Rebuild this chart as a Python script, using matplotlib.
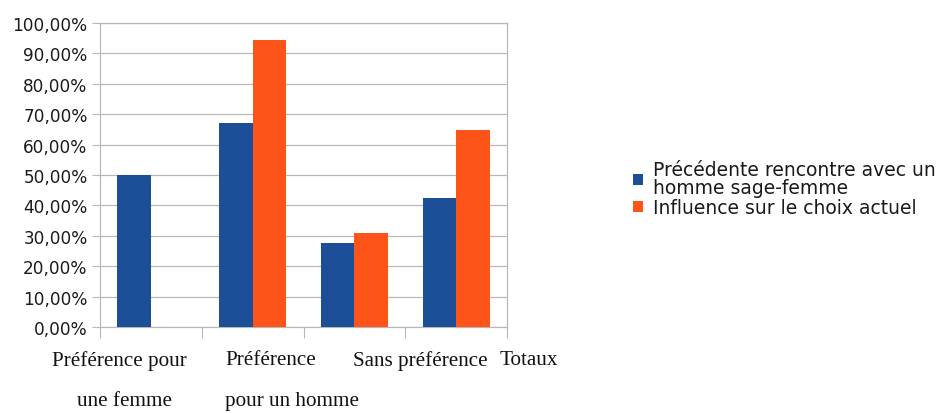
import matplotlib.pyplot as plt
import numpy as np

categories = ["Préférence pour une femme", "Préférence pour un homme", "Sans préférence", "Totaux"]
rencontre = [50.0, 67.0, 27.7, 42.3]
influence = [0.0, 94.5, 30.9, 64.8]
series_names = ["Précédente rencontre avec un\nhomme sage-femme", "Influence sur le choix actuel"]
yticks = np.arange(0, 101, 10)

BLUE = "#1c4f98"
ORANGE = "#ff5419"
GRID = "#b8b8b8"

fig = plt.figure(figsize=(9.5, 4.14), dpi=100)
ax = fig.add_axes([0.1053, 0.2077, 0.4284, 0.7343])

x = np.arange(len(categories))
w = 0.33
ax.bar(x - w / 2, rencontre, w, color=BLUE, label=series_names[0], zorder=3)
ax.bar(x + w / 2, influence, w, color=ORANGE, label=series_names[1], zorder=3)

ax.set_xlim(-0.5, len(categories) - 0.5)
ax.set_ylim(0, 100)
ax.set_yticks(yticks)
ax.set_yticklabels([f"{v},00%" for v in yticks], family="DejaVu Sans", fontsize=12.2, color="#1a1a1a")
ax.yaxis.grid(True, color=GRID, linewidth=0.9, zorder=0)
ax.tick_params(axis="y", length=6, color=GRID, pad=3)

ax.set_xticks(np.arange(len(categories) + 1) - 0.5)
ax.set_xticklabels([])
ax.tick_params(axis="x", length=8, color=GRID)

for s in ax.spines.values():
    s.set_color(GRID)
    s.set_linewidth(0.9)

# category labels written like free text under the chart
lines = [
    ("Préférence pour", 52, 361), ("une femme", 77, 402),
    ("Préférence", 225, 361), ("pour un homme", 225, 402),
    ("Sans préférence", 353, 361), ("Totaux", 500, 361),
]
for txt, px, py in lines:
    fig.text(px / 950, 1 - py / 414, txt, ha="left", va="center",
             family="Liberation Serif", fontsize=15.2, color="#111111")

leg = ax.legend(loc="center left", bbox_to_anchor=(1.29, 0.455), frameon=False,
                prop={"family": "DejaVu Sans", "size": 13.5},
                handlelength=0.55, handleheight=0.55, handletextpad=0.55,
                labelspacing=0.05, borderaxespad=0)
for t in leg.get_texts():
    t.set_linespacing(0.92)
    t.set_color("#1a1a1a")

fig.savefig("out.png", dpi=100)
